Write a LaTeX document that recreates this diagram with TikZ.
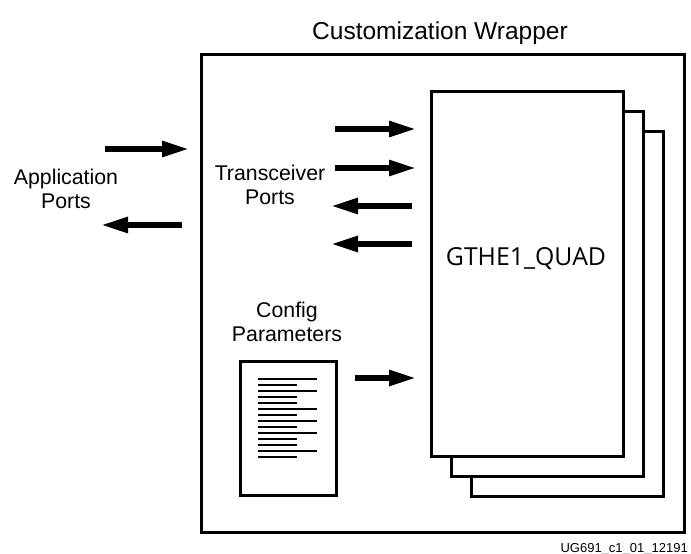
\documentclass[tikz,border=0pt]{standalone}
\usepackage{fontspec}
\setmainfont{Liberation Sans}
\newfontfamily\quadfont{Open Sans}
\usetikzlibrary{arrows.meta}
\begin{document}
\begin{tikzpicture}[x=1pt,y=-1pt,
  quadbox/.style={draw, line width=2.5pt, fill=white, minimum width=192pt, minimum height=365pt, anchor=north west, inner sep=0pt},
  lbl/.style={font=\fontsize{21.3}{24}\selectfont, align=center, inner sep=0pt},
  bigarrow/.style={line width=5.5pt, -{Triangle[length=27pt,width=15pt]}},
  docline/.style={line width=1.2pt}
]
\useasboundingbox (0,0) rectangle (691,554);

% wrapper
\node[draw, line width=2.5pt, minimum width=483pt, minimum height=478pt, anchor=north west, inner sep=0pt] (wrap) at (200,53) {};
\node[font=\fontsize{24.5}{28}\selectfont, anchor=base, inner sep=0pt] (title) at (440,39) {Customization Wrapper};

% stacked quads
\node[quadbox] (q3) at (470,130) {};
\node[quadbox] (q2) at (450,110) {};
\node[quadbox] (q1) at (430,90) {};
\node[font=\quadfont\fontsize{24.8}{30}\selectfont, anchor=base, inner sep=0pt] (qlbl) at (526,265) {GTHE1\_QUAD};

% labels
\node[lbl] (app) at (66,189) {Application\\Ports};
\node[lbl] (trx) at (270,185) {Transceiver\\Ports};
\node[lbl] (cfg) at (287,322) {Config\\Parameters};
\node[font=\fontsize{13}{15}\selectfont, anchor=base east, inner sep=0pt] (id) at (688,552) {UG691\_c1\_01\_12191};

% document icon
\node[draw, line width=3pt, minimum width=96pt, minimum height=134pt, anchor=north west, inner sep=0pt] (doc) at (239,360) {};
\foreach \yy/\len in {379/1,385/0,391/1,397/0,403/0,409/1,415/0,421/1,427/0,433/1,439/0,445/0,451/1,457/0}{
  \ifnum\len=1
    \draw[docline] (258,\yy) -- (317,\yy);
  \else
    \draw[docline] (258,\yy) -- (297,\yy);
  \fi
}

% arrow end points
\coordinate (a1s) at (105,149); \coordinate (a1e) at (189,149);
\coordinate (a2s) at (182,225); \coordinate (a2e) at (101,225);
\coordinate (t1s) at (335,129); \coordinate (t1e) at (416,129);
\coordinate (t2s) at (335,168); \coordinate (t2e) at (416,168);
\coordinate (t3s) at (412,206); \coordinate (t3e) at (331,206);
\coordinate (t4s) at (412,244); \coordinate (t4e) at (331,244);
\coordinate (c1s) at (355,378); \coordinate (c1e) at (416,378);

\draw[bigarrow] (a1s) -- (a1e);
\draw[bigarrow] (a2s) -- (a2e);
\draw[bigarrow] (t1s) -- (t1e);
\draw[bigarrow] (t2s) -- (t2e);
\draw[bigarrow] (t3s) -- (t3e);
\draw[bigarrow] (t4s) -- (t4e);
\draw[bigarrow] (c1s) -- (c1e);
\end{tikzpicture}
\end{document}
